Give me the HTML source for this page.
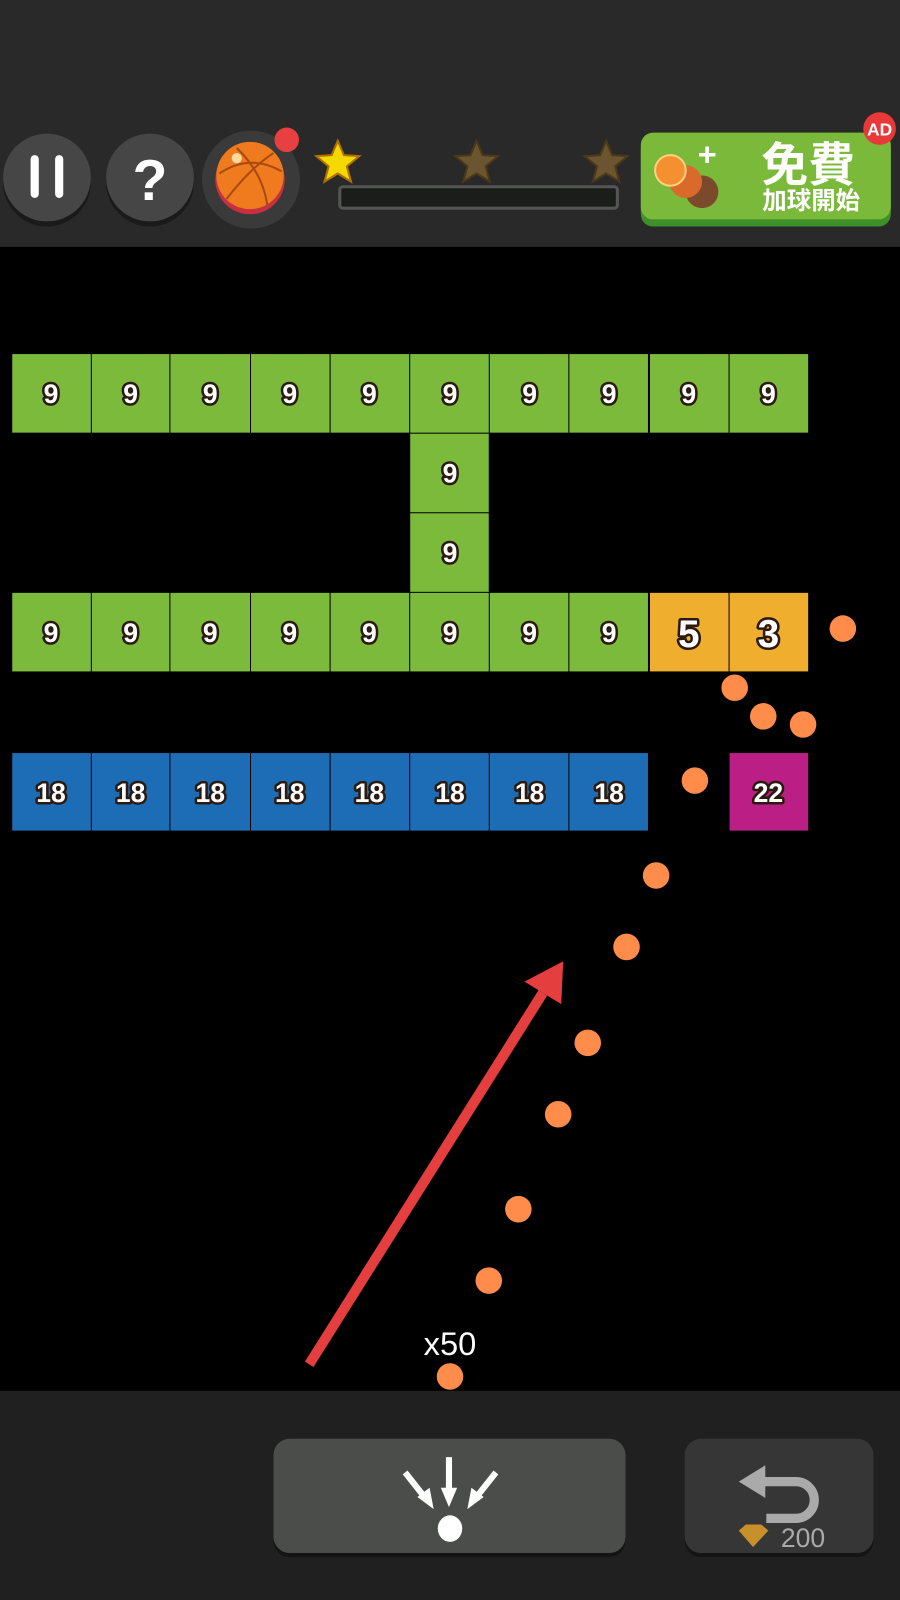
<!DOCTYPE html>
<html><head><meta charset="utf-8"><style>html,body{margin:0;padding:0;background:#000}svg{display:block}
.n{font-family:"Liberation Sans",sans-serif;font-weight:bold;fill:#fff;stroke:#2a1a10;stroke-width:5;paint-order:stroke;text-anchor:middle;stroke-linejoin:round}
</style></head><body>
<svg width="900" height="1600" viewBox="0 0 882 1568" preserveAspectRatio="none" xmlns="http://www.w3.org/2000/svg">
<rect x="0" y="0" width="882" height="242" fill="#292929"/>
<rect x="0" y="242" width="882" height="1121" fill="#000"/>
<rect x="0" y="1363" width="882" height="205" fill="#202020"/>
<circle cx="46" cy="179" r="43" fill="#1a1a1a"/><circle cx="46" cy="174" r="43" fill="#464646"/>
<rect x="30" y="152" width="8" height="42" rx="4" fill="#fff"/><rect x="54" y="152" width="8" height="42" rx="4" fill="#fff"/>
<circle cx="147" cy="179" r="43" fill="#1a1a1a"/><circle cx="147" cy="174" r="43" fill="#464646"/>
<text x="147" y="196" font-family="Liberation Sans,sans-serif" font-weight="bold" font-size="56" fill="#fff" text-anchor="middle">?</text>
<circle cx="246" cy="176" r="48" fill="#3a3a3a"/>
<circle cx="245" cy="176" r="34" fill="#c83040"/>
<circle cx="245" cy="172" r="33" fill="#f07a1e"/>
<path d="M215 170 Q245 150 276 168 M222 195 Q245 165 268 150 M232 145 Q258 170 262 202" stroke="#a84a10" stroke-width="2" fill="none"/>
<circle cx="232" cy="155" r="5" fill="#ffd8a0"/>
<circle cx="281" cy="137" r="12" fill="#e84040"/>
<g>
<polygon points="331,138 337,152 352,153 340,163 344,178 331,170 318,178 322,163 310,153 325,152" fill="#f5d800" stroke="#b07000" stroke-width="2"/>
<polygon points="467,138 473,152 488,153 476,163 480,178 467,170 454,178 458,163 446,153 461,152" fill="#6b5530" stroke="#4a3818" stroke-width="2"/>
<polygon points="594,138 600,152 615,153 603,163 607,178 594,170 581,178 585,163 573,153 588,152" fill="#6b5530" stroke="#4a3818" stroke-width="2"/>
</g>
<rect x="333" y="183" width="272" height="21" rx="3" fill="#1a1d1a" stroke="#555" stroke-width="3"/>
<rect x="628" y="134" width="245" height="88" rx="12" fill="#3f8f2a"/>
<rect x="628" y="130" width="245" height="85" rx="12" fill="#7ab93a"/>
<circle cx="688" cy="188" r="16" fill="#7a4a2a"/><circle cx="672" cy="178" r="16" fill="#d96a2a"/><circle cx="657" cy="167" r="15" fill="#f59030" stroke="#ffd080" stroke-width="2"/>
<text x="693" y="162" font-family="Liberation Sans,sans-serif" font-weight="bold" font-size="32" fill="#fff" text-anchor="middle">+</text>
<text x="792" y="178" font-family="Liberation Sans,'Noto Sans CJK TC',sans-serif" font-weight="bold" font-size="46" fill="#fff" text-anchor="middle">免費</text>
<text x="795" y="205" font-family="Liberation Sans,'Noto Sans CJK TC',sans-serif" font-weight="bold" font-size="24" fill="#fff" text-anchor="middle">加球開始</text>
<circle cx="862" cy="126" r="16" fill="#e83838"/>
<text x="862" y="133" font-family="Liberation Sans,sans-serif" font-weight="bold" font-size="17" fill="#fff" text-anchor="middle">AD</text>
<g>
<g fill="#7cba3c">
<rect x="12" y="347" width="77" height="77"/><rect x="90" y="347" width="76" height="77"/><rect x="167" y="347" width="78" height="77"/><rect x="246" y="347" width="77" height="77"/><rect x="324" y="347" width="77" height="77"/><rect x="402" y="347" width="77" height="77"/><rect x="480" y="347" width="77" height="77"/><rect x="558" y="347" width="77" height="77"/><rect x="637" y="347" width="77" height="77"/><rect x="715" y="347" width="77" height="77"/>
<rect x="402" y="425" width="77" height="77"/><rect x="402" y="503" width="77" height="77"/>
<rect x="12" y="581" width="77" height="77"/><rect x="90" y="581" width="76" height="77"/><rect x="167" y="581" width="78" height="77"/><rect x="246" y="581" width="77" height="77"/><rect x="324" y="581" width="77" height="77"/><rect x="402" y="581" width="77" height="77"/><rect x="480" y="581" width="77" height="77"/><rect x="558" y="581" width="77" height="77"/>
</g>
<rect x="637" y="581" width="77" height="77" fill="#efae2e"/><rect x="715" y="581" width="77" height="77" fill="#efae2e"/>
<g fill="#1c6db5">
<rect x="12" y="738" width="77" height="76"/><rect x="90" y="738" width="76" height="76"/><rect x="167" y="738" width="78" height="76"/><rect x="246" y="738" width="77" height="76"/><rect x="324" y="738" width="77" height="76"/><rect x="402" y="738" width="77" height="76"/><rect x="480" y="738" width="77" height="76"/><rect x="558" y="738" width="77" height="76"/>
</g>
<rect x="715" y="738" width="77" height="76" fill="#bb1f86"/>
</g>
<g class="n" font-size="26">
<text x="50" y="395">9</text><text x="128" y="395">9</text><text x="206" y="395">9</text><text x="284" y="395">9</text><text x="362" y="395">9</text><text x="441" y="395">9</text><text x="519" y="395">9</text><text x="597" y="395">9</text><text x="675" y="395">9</text><text x="753" y="395">9</text>
<text x="441" y="473">9</text><text x="441" y="551">9</text>
<text x="50" y="629">9</text><text x="128" y="629">9</text><text x="206" y="629">9</text><text x="284" y="629">9</text><text x="362" y="629">9</text><text x="441" y="629">9</text><text x="519" y="629">9</text><text x="597" y="629">9</text>
<text x="50" y="786">18</text><text x="128" y="786">18</text><text x="206" y="786">18</text><text x="284" y="786">18</text><text x="362" y="786">18</text><text x="441" y="786">18</text><text x="519" y="786">18</text><text x="597" y="786">18</text><text x="753" y="786">22</text>
</g>
<g class="n" font-size="38">
<text x="675" y="634">5</text><text x="753" y="634">3</text>
</g>
<g fill="#ff8c4a">
<circle cx="826" cy="616" r="13"/><circle cx="720" cy="674" r="13"/><circle cx="748" cy="702" r="13"/><circle cx="787" cy="710" r="13"/><circle cx="681" cy="765" r="13"/><circle cx="643" cy="858" r="13"/><circle cx="614" cy="928" r="13"/><circle cx="576" cy="1022" r="13"/><circle cx="547" cy="1092" r="13"/><circle cx="508" cy="1185" r="13"/><circle cx="479" cy="1255" r="13"/><circle cx="441" cy="1349" r="13"/>
</g>
<line x1="303" y1="1337" x2="532" y2="973" stroke="#e53e3e" stroke-width="10"/>
<polygon points="552,942 550,984 514,962" fill="#e53e3e"/>
<text x="441" y="1328" font-family="Liberation Sans,sans-serif" font-size="32" fill="#fff" text-anchor="middle">x50</text>
<rect x="268" y="1414" width="345" height="112" rx="16" fill="#141414"/>
<rect x="268" y="1410" width="345" height="112" rx="16" fill="#4b4d4b"/>
<g fill="#fff" stroke="#fff">
<line x1="440" y1="1428" x2="440" y2="1462" stroke-width="6"/><polygon points="432,1458 448,1458 440,1477" stroke="none"/>
<line x1="397" y1="1443" x2="416" y2="1467" stroke-width="6"/><polygon points="409,1467 421,1458 425,1479" stroke="none"/>
<line x1="486" y1="1443" x2="467" y2="1467" stroke-width="6"/><polygon points="474,1467 462,1458 458,1479" stroke="none"/>
<ellipse cx="441" cy="1498" rx="12" ry="13" stroke="none"/>
</g>
<rect x="671" y="1414" width="185" height="112" rx="16" fill="#141414"/>
<rect x="671" y="1410" width="185" height="112" rx="16" fill="#363636"/>
<path d="M749 1452 H780 A18 18 0 0 1 780 1488 H751" fill="none" stroke="#aaa" stroke-width="9"/>
<polygon points="724,1452 750,1436 750,1468" fill="#aaa"/>
<polygon points="724,1500 731,1494 746,1494 753,1500 738,1516" fill="#c8902a"/>
<text x="787" y="1516" font-family="Liberation Sans,sans-serif" font-size="26" fill="#aaa" text-anchor="middle">200</text>
</svg>
</body></html>
